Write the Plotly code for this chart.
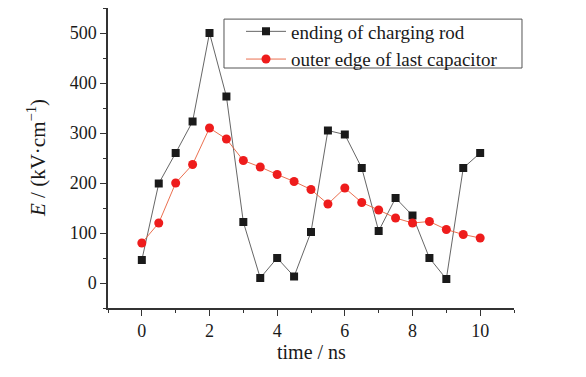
import plotly.graph_objects as go

time_ns = [0, 0.5, 1, 1.5, 2, 2.5, 3, 3.5, 4, 4.5, 5, 5.5, 6, 6.5, 7, 7.5, 8, 8.5, 9, 9.5, 10]
rod_end = [46, 199, 260, 323, 500, 373, 122, 10, 50, 13, 102, 305, 297, 230, 104, 170, 135, 50, 8, 230, 260]
capacitor_edge = [80, 120, 200, 237, 310, 288, 245, 232, 217, 203, 187, 158, 190, 161, 146, 130, 120, 123, 107, 97, 90]

x_ticks = [0, 2, 4, 6, 8, 10]
y_ticks = [0, 100, 200, 300, 400, 500]

FONT = "Liberation Serif"

fig = go.Figure()
fig.add_trace(go.Scatter(
    x=time_ns, y=rod_end, mode="lines+markers", name="ending of charging rod",
    line=dict(color="#555555", width=0.9),
    marker=dict(symbol="square", size=8, color="#1a1a1a"),
))
fig.add_trace(go.Scatter(
    x=time_ns, y=capacitor_edge, mode="lines+markers", name="outer edge of last capacitor",
    line=dict(color="#e8603c", width=0.9),
    marker=dict(symbol="circle", size=9, color="#ee1c1c"),
))

axis_common = dict(
    showline=True, linecolor="#333333", linewidth=1.5, mirror=False,
    ticks="outside", ticklen=6, tickwidth=1.2, tickcolor="#333333",
    showgrid=False, zeroline=False, automargin=False,
    tickfont=dict(family=FONT, size=18, color="#1a1a1a"),
)

fig.update_layout(
    width=578, height=369,
    margin=dict(l=100, r=72, t=0, b=69),
    paper_bgcolor="white", plot_bgcolor="white",
    font=dict(family=FONT, color="#1a1a1a"),
    showlegend=True,
    legend=dict(
        x=0.3276, y=0.985, xanchor="left", yanchor="top",
        borderwidth=0, bgcolor="rgba(0,0,0,0)",
        font=dict(family=FONT, size=19, color="#1a1a1a"),
        itemwidth=40, tracegroupgap=0,
    ),
    shapes=[dict(
        type="rect", xref="paper", yref="paper",
        x0=0.2857, x1=1.0197, y0=0.8, y1=0.963,
        line=dict(color="#555555", width=1), fillcolor="rgba(0,0,0,0)",
    )],
    xaxis=dict(
        range=[-1, 11], tickvals=x_ticks,
        minor=dict(dtick=1, tick0=0, ticks="outside", ticklen=3, tickcolor="#333333", tickwidth=1),
        **axis_common,
    ),
    yaxis=dict(
        range=[-50, 550], tickvals=y_ticks,
        minor=dict(dtick=50, tick0=0, ticks="outside", ticklen=3, tickcolor="#333333", tickwidth=1),
        **axis_common,
    ),
    annotations=[
        dict(
            text="<i>E</i> / (kV·cm<sup>−1</sup>)", textangle=-90,
            xref="paper", yref="paper", x=0, y=0.5, xanchor="center", yanchor="middle",
            xshift=-72, showarrow=False, font=dict(family=FONT, size=21, color="#1a1a1a"),
        ),
        dict(
            text="time / ns",
            xref="paper", yref="paper", x=0.5, y=0, xanchor="center", yanchor="middle",
            yshift=-44, showarrow=False, font=dict(family=FONT, size=20, color="#1a1a1a"),
        ),
    ],
)

fig.write_html("out.html")
